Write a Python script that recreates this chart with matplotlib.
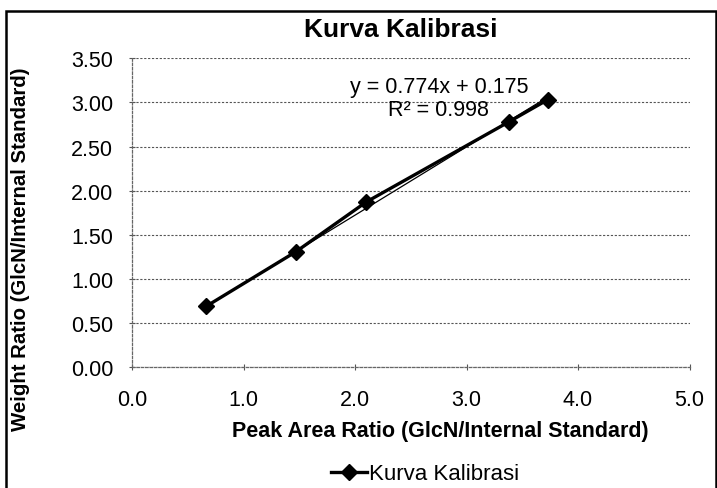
import matplotlib
matplotlib.use("Agg")
import matplotlib.pyplot as plt
from matplotlib.patches import Rectangle
import numpy as np

plt.rcParams['font.family'] = ['Liberation Sans', 'DejaVu Sans']

# Data
peak_area_ratio = [0.663, 1.471, 2.100, 3.377, 3.730]
weight_ratio = [0.689, 1.310, 1.872, 2.778, 3.032]
slope, intercept = 0.774, 0.175
x_ticks = [0.0, 1.0, 2.0, 3.0, 4.0, 5.0]
y_ticks = [0.0, 0.5, 1.0, 1.5, 2.0, 2.5, 3.0, 3.5]
title = "Kurva Kalibrasi"
xlabel = "Peak Area Ratio (GlcN/Internal Standard)"
ylabel = "Weight Ratio (GlcN/Internal Standard)"
eq_line1 = "y = 0.774x + 0.175"
eq_line2 = "R² = 0.998"

W, H = 717, 489
fig = plt.figure(figsize=(W / 100, H / 100), dpi=100)
ax = fig.add_axes([132 / W, 1 - 368.3 / H, 557.5 / W, 309 / H])

# trendline
xt = np.array([min(peak_area_ratio), max(peak_area_ratio)])
ax.plot(xt, slope * xt + intercept, color='black', lw=0.9, zorder=3)
# data series
ax.plot(peak_area_ratio, weight_ratio, color='black', lw=2.4, marker='D',
        markersize=8, zorder=4, label=title)

ax.set_xlim(0, 5)
ax.set_ylim(0, 3.5)
ax.set_xticks(x_ticks)
ax.set_yticks(y_ticks)
ax.set_xticklabels([f"{v:.1f}" for v in x_ticks])
ax.set_yticklabels([f"{v:.2f}" for v in y_ticks])
ax.tick_params(axis='both', labelsize=15.5, colors='#555555', labelcolor='black',
               direction='inout', length=5, width=0.8)
ax.tick_params(axis='x', pad=13)
ax.tick_params(axis='y', pad=11)

ax.grid(axis='y', color='#555555', lw=0.8, linestyle=(0, (2, 1.5)))
for s in ['top', 'right']:
    ax.spines[s].set_visible(False)
for s in ['left', 'bottom']:
    ax.spines[s].set_color('#666666')
    ax.spines[s].set_linestyle((0, (2, 1.5)))
    ax.spines[s].set_linewidth(0.9)

ax.text(2.752, 3.18, eq_line1, fontsize=15.5, ha='center', va='center', zorder=5)
ax.text(2.752, 2.92, eq_line2, fontsize=15.5, ha='center', va='center', zorder=5)

fig.text(401 / W, 1 - 30 / H, title, fontsize=19, fontweight='bold',
         ha='center', va='center')
fig.text(440 / W, 1 - 432 / H, xlabel, fontsize=15.5, fontweight='bold',
         ha='center', va='center')
fig.text(21 / W, 1 - 249 / H, ylabel, fontsize=14.7, fontweight='bold',
         ha='center', va='center', rotation=90)

fig.legend(loc='center', bbox_to_anchor=(425 / W, 1 - 475 / H), frameon=False,
           fontsize=16, handlelength=1.6, handletextpad=0.1, borderpad=0)

fig.patches.append(Rectangle((6 / W, -0.02), (716 - 6) / W, 1 - 11.7 / H + 0.02,
                             transform=fig.transFigure, fill=False,
                             edgecolor='black', lw=1.8))

fig.savefig("out.png", dpi=100)
